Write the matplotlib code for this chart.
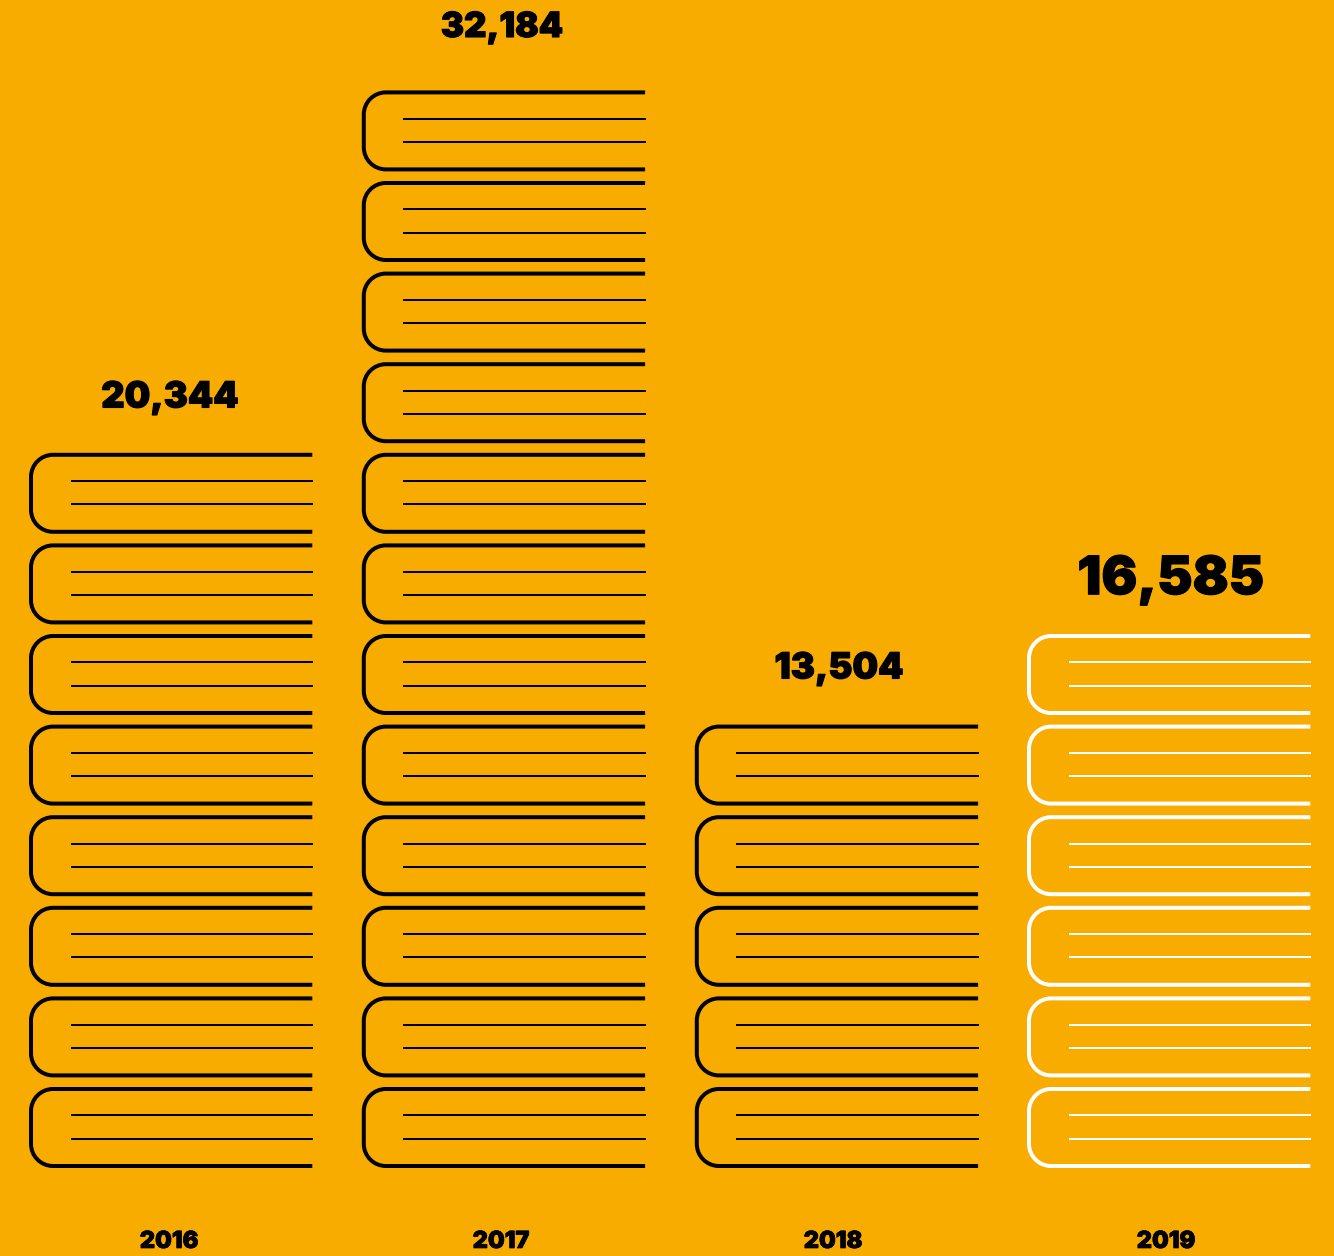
import matplotlib
matplotlib.use('Agg')
import matplotlib.pyplot as plt
import matplotlib.patheffects as pe
from matplotlib.path import Path
from matplotlib.patches import PathPatch

# datos
years = ['2016', '2017', '2018', '2019']
values = ['20,344', '32,184', '13,504', '16,585']
book_counts = [8, 12, 5, 6]

# estilo
BG = '#F9AC00'
colors = ['black', 'black', 'black', 'white']
label_sizes = [26, 25, 26, 38.3]
label_x = [170, 502, 839, 1171]
label_y = [398, 28, 669, 580]
year_x = [169, 501, 833, 1166]
col_left = [31, 363.8, 696.8, 1029]

BOOK_W = 281.3
BOOK_H = 77
PITCH = 90.6
BOTTOM = 1166
RADIUS = 22
px = 72 / 100  # puntos por pixel

plt.rcParams['font.family'] = ['Inter', 'DejaVu Sans']

fig = plt.figure(figsize=(13.34, 12.56), dpi=100, facecolor=BG)
ax = fig.add_axes([0, 0, 1, 1])
ax.set_xlim(0, 1334)
ax.set_ylim(1256, 0)
ax.axis('off')


def dibujar_libro(x, bottom, color):
    top = bottom - BOOK_H
    right = x + BOOK_W
    k = RADIUS * 0.45
    verts = [(right, top), (x + RADIUS, top),
             (x + k, top), (x, top + k), (x, top + RADIUS),
             (x, bottom - RADIUS),
             (x, bottom - k), (x + k, bottom), (x + RADIUS, bottom),
             (right, bottom)]
    codes = [Path.MOVETO, Path.LINETO,
             Path.CURVE4, Path.CURVE4, Path.CURVE4,
             Path.LINETO,
             Path.CURVE4, Path.CURVE4, Path.CURVE4,
             Path.LINETO]
    ax.add_patch(PathPatch(Path(verts, codes), fill=False, edgecolor=color,
                           lw=4 * px, capstyle='butt', joinstyle='round'))
    # las dos lineas de paginas
    for yy in (top + 26.3, top + 49.5):
        ax.plot([x + 39.6, right + 0.7], [yy, yy], color=color, lw=2 * px,
                solid_capstyle='butt')


for i, year in enumerate(years):
    for n in range(book_counts[i]):
        dibujar_libro(col_left[i], BOTTOM - n * PITCH, colors[i])
    ax.text(label_x[i], label_y[i], values[i], ha='center', va='center',
            fontsize=label_sizes[i], fontweight=900, color='black',
            path_effects=[pe.withStroke(linewidth=0.8, foreground='black')])
    ax.text(year_x[i], 1242, year, ha='center', va='center',
            fontsize=17, fontweight=900, color='black',
            path_effects=[pe.withStroke(linewidth=0.5, foreground='black')])

fig.savefig('out.png', dpi=100, facecolor=BG)
